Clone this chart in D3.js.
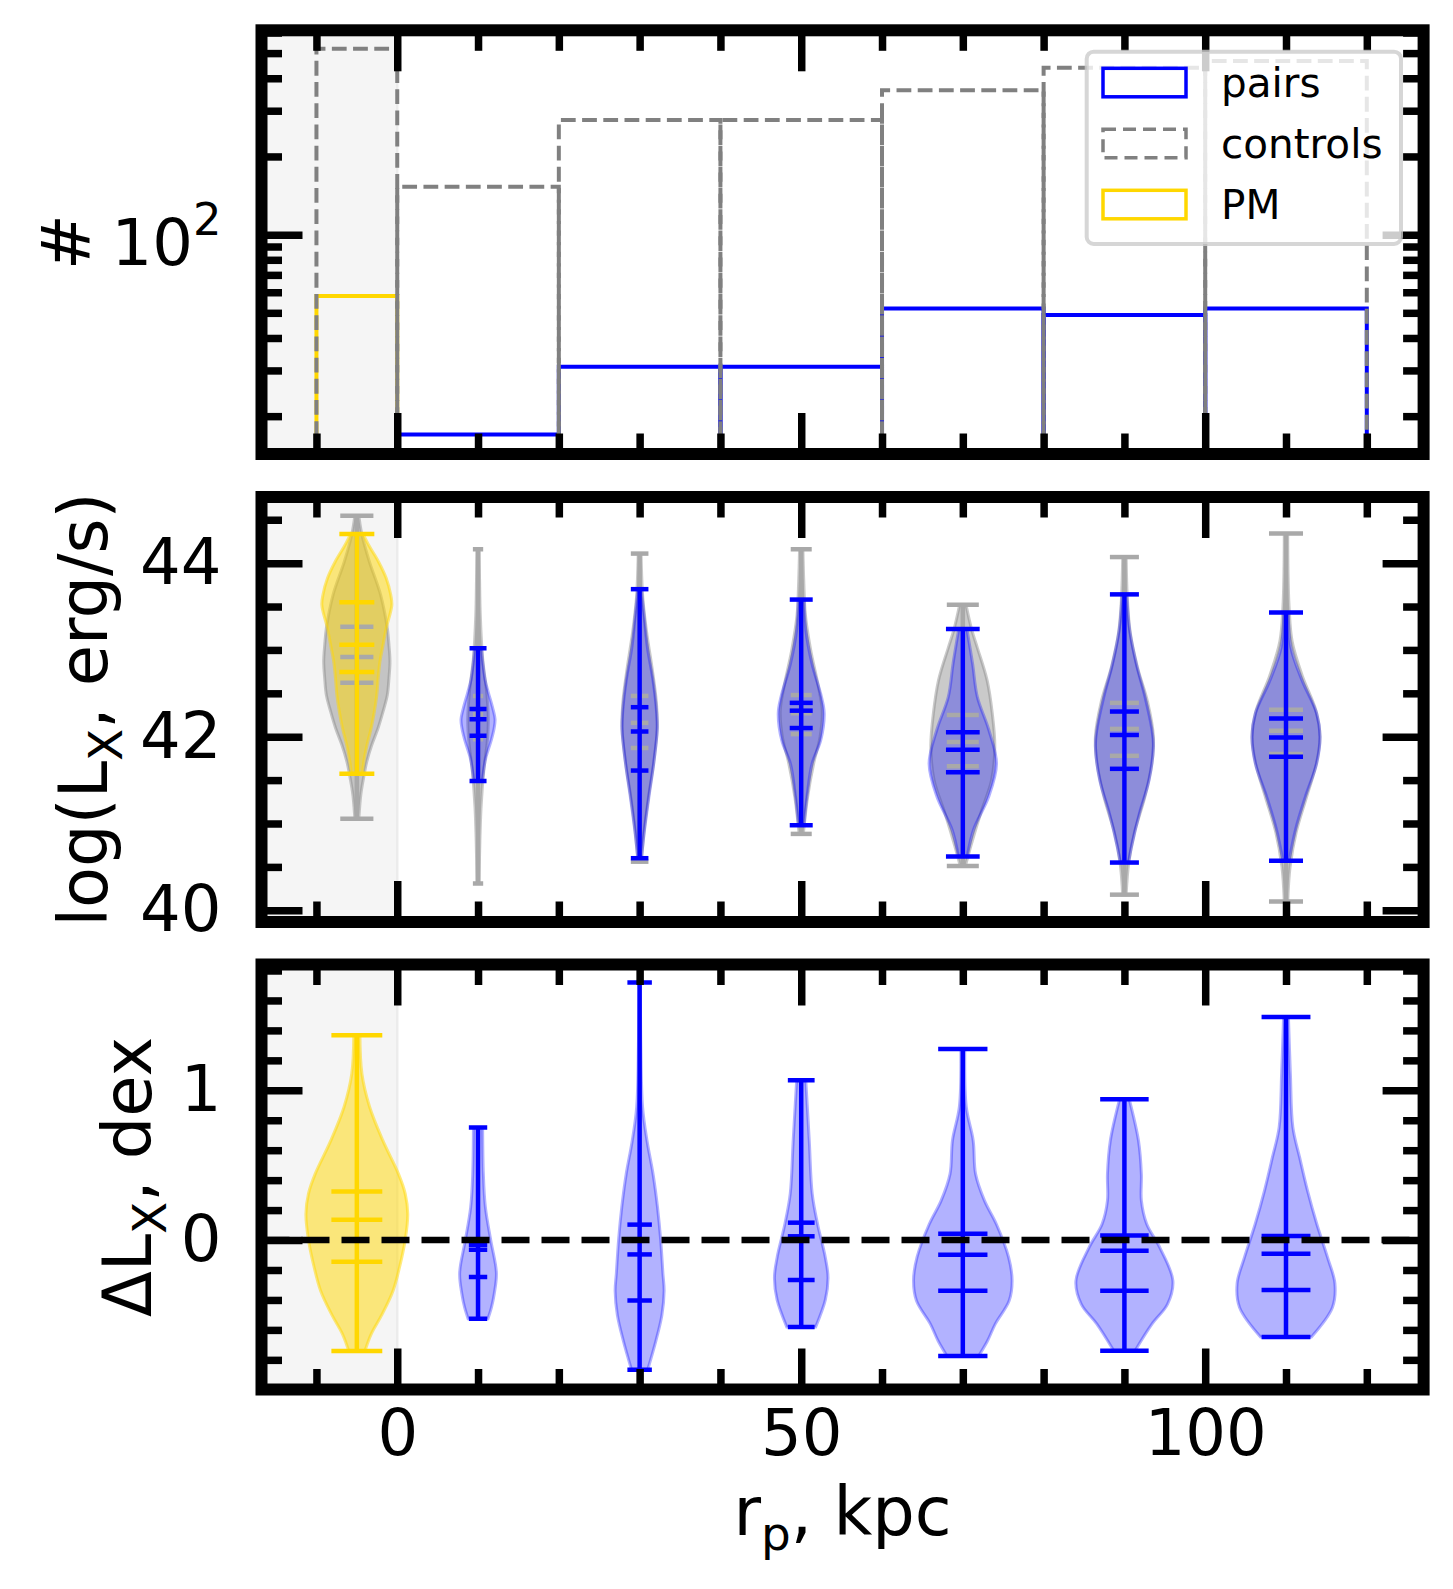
<!DOCTYPE html>
<html><head><meta charset="utf-8">
<script src="https://cdn.jsdelivr.net/npm/d3@7"></script>
<style>
html,body{margin:0;padding:0;background:#fff;}
svg{display:block;font-family:"DejaVu Sans",sans-serif;}
</style></head><body>
<svg id="chart" width="1453" height="1589"></svg>
<script>
// ---------------- data ----------------
const binEdges = [0, 20, 40, 60, 80, 100, 120];
const pmBinEdges = [-10, 0];
const pairCounts = [17, 31, 31, 52, 49, 52];
const controlCounts = [153, 276, 276, 360, 439, 466];
const pmCount = 58;
const pmControlCount = 520;

const violinPositions = [-5, 10, 30, 50, 70, 90, 110];   // first = PM
// violin widths (x data units), per violin
const lxControlWidths = [8.2, 2.55, 4.36, 5.2, 7.92, 7.18, 8.42];
const lxPairWidths    = [8.66, 4.21, 4.36, 5.69, 8.35, 7.18, 8.42];
const dlxPairWidths   = [12.6, 4.55, 6.06, 6.63, 12.2, 12.0, 12.1];

// violin statistic lines: [min, line1, line2, line3, max]
const lxControlLines = [
  [41.055, 42.623, 42.918, 43.268, 44.546],
  [40.31, 41.97, 42.26, 42.47, 44.16],
  [40.56, 41.87, 42.16, 42.47, 44.11],
  [40.88, 42.03, 42.27, 42.48, 44.16],
  [40.51, 41.66, 41.94, 42.25, 43.52],
  [40.18, 41.78, 42.09, 42.39, 44.07],
  [40.10, 41.80, 42.07, 42.31, 44.34]
];
const lxPairLines = [
  [41.574, 42.745, 43.06, 43.55, 44.335],
  [41.49, 42.01, 42.20, 42.32, 43.02],
  [40.60, 41.61, 42.06, 42.34, 43.70],
  [40.98, 42.10, 42.30, 42.39, 43.58],
  [40.62, 41.59, 41.85, 42.05, 43.24],
  [40.55, 41.63, 42.02, 42.29, 43.64],
  [40.57, 41.77, 41.99, 42.21, 43.43]
];
const dlxPairLines = [
  [-0.741, -0.145, 0.136, 0.324, 1.368],
  [-0.525, -0.246, -0.065, -0.031, 0.752],
  [-0.866, -0.404, -0.096, 0.103, 1.719],
  [-0.580, -0.266, 0.025, 0.116, 1.067],
  [-0.775, -0.339, -0.098, 0.042, 1.275],
  [-0.739, -0.339, -0.071, 0.031, 0.940],
  [-0.647, -0.333, -0.092, 0.027, 1.489]
];

// violin density profiles: [value, relative density]
const lxControlProfiles = [
  [[41.055,0.06],[41.33,0.12],[41.52,0.20],[41.712,0.30],[41.904,0.45],[42.097,0.64],[42.288,0.79],[42.48,0.92],[42.673,0.97],[42.864,1.0],[43.056,0.97],[43.249,0.92],[43.632,0.72],[44.016,0.38],[44.335,0.15],[44.546,0.06]],
  [[40.31,0.1],[40.8,0.18],[41.2,0.3],[41.6,0.55],[41.95,0.9],[42.2,1.0],[42.5,0.85],[42.9,0.45],[43.4,0.22],[43.8,0.15],[44.16,0.1]],
  [[40.56,0.1],[40.9,0.25],[41.3,0.5],[41.7,0.8],[42.1,1.0],[42.4,0.95],[42.8,0.7],[43.2,0.4],[43.6,0.18],[44.11,0.08]],
  [[40.88,0.1],[41.3,0.3],[41.7,0.6],[42.0,0.9],[42.3,1.0],[42.6,0.8],[43.0,0.45],[43.4,0.2],[43.8,0.12],[44.16,0.08]],
  [[40.51,0.08],[40.74,0.25],[41.12,0.56],[41.5,0.9],[41.89,1.0],[42.27,0.92],[42.65,0.76],[43.03,0.45],[43.23,0.28],[43.52,0.1]],
  [[40.18,0.06],[40.55,0.15],[40.9,0.35],[41.3,0.7],[41.7,0.95],[42.0,1.0],[42.4,0.8],[42.8,0.45],[43.2,0.2],[43.6,0.1],[44.07,0.06]],
  [[40.10,0.05],[40.5,0.12],[40.9,0.3],[41.3,0.6],[41.7,0.9],[42.0,1.0],[42.3,0.88],[42.7,0.48],[43.1,0.18],[43.5,0.09],[43.9,0.06],[44.34,0.05]]
];
const lxPairProfiles = [
  [[41.574,0.16],[41.712,0.20],[41.904,0.29],[42.097,0.41],[42.288,0.50],[42.48,0.57],[42.673,0.61],[42.864,0.66],[43.056,0.75],[43.249,0.84],[43.517,1.0],[43.632,0.97],[43.825,0.84],[44.016,0.62],[44.2,0.35],[44.335,0.18]],
  [[41.49,0.25],[41.6,0.32],[41.75,0.45],[41.96,0.78],[42.1,0.95],[42.2,1.0],[42.34,0.85],[42.5,0.62],[42.65,0.42],[42.85,0.28],[43.02,0.2]],
  [[40.60,0.1],[40.93,0.28],[41.31,0.53],[41.69,0.8],[42.08,1.0],[42.27,0.97],[42.65,0.76],[43.03,0.44],[43.42,0.24],[43.70,0.1]],
  [[40.98,0.12],[41.31,0.25],[41.69,0.47],[41.96,0.85],[42.27,1.0],[42.46,0.88],[42.84,0.47],[43.23,0.2],[43.58,0.13]],
  [[40.62,0.13],[40.93,0.32],[41.31,0.77],[41.69,1.0],[42.08,0.77],[42.46,0.43],[42.84,0.29],[43.24,0.12]],
  [[40.55,0.14],[40.74,0.25],[41.12,0.52],[41.5,0.85],[41.89,1.0],[42.08,0.95],[42.46,0.71],[42.84,0.41],[43.23,0.18],[43.64,0.08]],
  [[40.57,0.09],[40.93,0.28],[41.31,0.57],[41.69,0.9],[42.0,1.0],[42.27,0.9],[42.65,0.47],[43.03,0.14],[43.43,0.07]]
];
const dlxPairProfiles = [
  [[-0.74,0.16],[-0.63,0.28],[-0.5,0.49],[-0.34,0.71],[-0.18,0.84],[0,0.95],[0.174,1.0],[0.31,0.95],[0.44,0.82],[0.665,0.51],[0.89,0.25],[1.11,0.10],[1.37,0.06]],
  [[-0.525,0.54],[-0.45,0.73],[-0.36,0.88],[-0.22,1.0],[0,0.69],[0.22,0.40],[0.44,0.29],[0.752,0.25]],
  [[-0.866,0.33],[-0.67,0.67],[-0.5,0.91],[-0.34,1.0],[-0.22,0.95],[0,0.86],[0.22,0.73],[0.44,0.55],[0.665,0.30],[0.89,0.12],[1.3,0.05],[1.719,0.03]],
  [[-0.58,0.54],[-0.40,0.90],[-0.25,1.0],[-0.116,0.90],[0.107,0.61],[0.31,0.41],[0.665,0.30],[1.067,0.17]],
  [[-0.775,0.32],[-0.674,0.50],[-0.56,0.66],[-0.406,0.94],[-0.272,1.0],[-0.116,0.93],[0.107,0.68],[0.263,0.44],[0.44,0.26],[0.665,0.21],[0.89,0.07],[1.275,0.04]],
  [[-0.739,0.22],[-0.56,0.57],[-0.428,0.89],[-0.272,1.0],[-0.05,0.73],[0.107,0.46],[0.263,0.35],[0.44,0.35],[0.665,0.29],[0.94,0.10]],
  [[-0.647,0.52],[-0.45,0.95],[-0.29,1.0],[-0.116,0.85],[0.107,0.63],[0.33,0.44],[0.55,0.28],[0.754,0.14],[1.11,0.09],[1.489,0.05]]
];

// ticks
const xMajorTicks = [0, 50, 100];
const xMinorTicks = [-10, 10, 20, 30, 40, 60, 70, 80, 90, 110, 120];
const countMajorTicks = [100];
const countMinorTicks = [20, 30, 40, 50, 60, 70, 80, 90, 200, 300, 400, 500, 600];
const lxMajorTicks = [40, 42, 44];
const lxMinorTicks = [40.5, 41, 41.5, 42.5, 43, 43.5, 44.5];
const dlxMajorTicks = [0, 1];
const dlxMinorTicks = [-0.8, -0.6, -0.4, -0.2, 0.2, 0.4, 0.6, 0.8, 1.2, 1.4, 1.6, 1.8];
const legendLabels = ["pairs", "controls", "PM"];

// ---------------- layout / style ----------------
const C_BLUE = "#0000ff", C_GOLD = "#ffd700", C_GRAY = "#808080", C_DGRAY = "#a9a9a9";
const X0 = 261.5, X1 = 1423.6;
const P = [{top: 30.3, bottom: 454}, {top: 497, bottom: 922}, {top: 964.5, bottom: 1389.5}];
const FS = 64, LFS = 67;
const MAJ = 41, MIN = 20.5, TW = 7.5, SPW = 12, VLW = 4.5;

const svg = d3.select("#chart");
const x = d3.scaleLinear().domain([-16.8, 127.03]).range([X0, X1]);
const y1 = d3.scaleLog().domain([14.3, 612]).range([P[0].bottom, P[0].top]);
const y2 = d3.scaleLinear().domain([39.865, 44.762]).range([P[1].bottom, P[1].top]);
const y3 = d3.scaleLinear().domain([-0.998, 1.84]).range([P[2].bottom, P[2].top]);

const defs = svg.append("defs");
P.forEach((p, i) => {
  defs.append("clipPath").attr("id", "clip" + i).append("rect")
    .attr("x", X0).attr("y", p.top).attr("width", X1 - X0).attr("height", p.bottom - p.top);
});

function panelGroup(i) {
  const g = svg.append("g").attr("clip-path", `url(#clip${i})`);
  g.append("rect").attr("x", X0).attr("y", P[i].top)
    .attr("width", x(0) - X0).attr("height", P[i].bottom - P[i].top).attr("fill", "#f5f5f5");
  g.append("line").attr("x1", x(0)).attr("x2", x(0)).attr("y1", P[i].top).attr("y2", P[i].bottom)
    .attr("stroke", "#ececec").attr("stroke-width", 2.5);
  return g;
}

function axesFor(i, yScale, yMaj, yMin, labelFmt) {
  const p = P[i];
  const g = svg.append("g");
  const mk = (gen, tr, vals, size, lab) => {
    const a = gen.tickValues(vals).tickSize(-size).tickPadding(lab ? lab.pad : 0)
      .tickFormat(lab ? lab.fmt : () => "");
    const ag = g.append("g").attr("transform", tr).call(a);
    ag.select(".domain").remove();
    ag.selectAll(".tick line").attr("stroke", "#000").attr("stroke-width", TW);
    ag.attr("font-family", "DejaVu Sans").attr("font-size", FS);
    ag.selectAll(".tick text").attr("fill", "#000");
    return ag;
  };
  const showXLab = i === 2;
  mk(d3.axisBottom(x), `translate(0,${p.bottom})`, xMajorTicks, MAJ, showXLab ? {pad: 20, fmt: d3.format("d")} : null);
  mk(d3.axisBottom(x), `translate(0,${p.bottom})`, xMinorTicks, MIN, null);
  mk(d3.axisTop(x), `translate(0,${p.top})`, xMajorTicks, MAJ, null);
  mk(d3.axisTop(x), `translate(0,${p.top})`, xMinorTicks, MIN, null);
  const left = mk(d3.axisLeft(yScale), `translate(${X0},0)`, yMaj, MAJ, {pad: 40, fmt: labelFmt});
  mk(d3.axisLeft(yScale), `translate(${X0},0)`, yMin, MIN, null);
  mk(d3.axisRight(yScale), `translate(${X1},0)`, yMaj, MAJ, null);
  mk(d3.axisRight(yScale), `translate(${X1},0)`, yMin, MIN, null);
  return left;
}

function frame(i) {
  svg.append("rect").attr("x", X0).attr("y", P[i].top).attr("width", X1 - X0)
    .attr("height", P[i].bottom - P[i].top).attr("fill", "none")
    .attr("stroke", "#000").attr("stroke-width", SPW).attr("stroke-linejoin", "miter");
}

// ---------------- panel 1: histograms ----------------
const g1 = panelGroup(0);
const stepPath = (x0, x1v, c) => {
  const yb = y1(1);
  return `M${x(x0)},${yb}L${x(x0)},${y1(c)}L${x(x1v)},${y1(c)}L${x(x1v)},${yb}`;
};
pairCounts.forEach((c, k) => {
  g1.append("path").attr("d", stepPath(binEdges[k], binEdges[k + 1], c))
    .attr("fill", "none").attr("stroke", C_BLUE).attr("stroke-width", 4);
});
g1.append("path").attr("d", stepPath(pmBinEdges[0], pmBinEdges[1], pmCount))
  .attr("fill", "none").attr("stroke", C_GOLD).attr("stroke-width", 4);
const dash = "14.8,6.4";
controlCounts.forEach((c, k) => {
  g1.append("path").attr("d", stepPath(binEdges[k], binEdges[k + 1], c))
    .attr("fill", "none").attr("stroke", C_GRAY).attr("stroke-width", 4).attr("stroke-dasharray", dash);
});
g1.append("path").attr("d", stepPath(pmBinEdges[0], pmBinEdges[1], pmControlCount))
  .attr("fill", "none").attr("stroke", C_GRAY).attr("stroke-width", 4).attr("stroke-dasharray", dash);

const ax1 = axesFor(0, y1, countMajorTicks, countMinorTicks, () => "");
ax1.selectAll(".tick text").each(function () {
  const t = d3.select(this).attr("dy", null).attr("y", 12).attr("dominant-baseline", "middle");
  t.append("tspan").text("10");
  t.append("tspan").attr("font-size", FS * 0.7).attr("dy", -24).text("2");
});
frame(0);

// ---------------- violin helpers ----------------
function violinBody(g, yScale, pos, width, profile, color, op) {
  const cx = x(pos);
  const half = (x(pos + width / 2) - x(pos - width / 2)) / 2;
  const area = d3.area().curve(d3.curveCatmullRom.alpha(0.5))
    .y(d => yScale(d[0])).x0(d => cx - d[1] * half).x1(d => cx + d[1] * half);
  g.append("path").attr("d", area(profile)).attr("fill", color).attr("fill-opacity", op)
    .attr("stroke", color).attr("stroke-opacity", op).attr("stroke-width", 3);
}
function violinLines(g, yScale, pos, width, vals, color) {
  const cx = x(pos);
  const hl = x(pos + width / 4) - cx;
  g.append("line").attr("x1", cx).attr("x2", cx).attr("y1", yScale(vals[0])).attr("y2", yScale(vals[4]))
    .attr("stroke", color).attr("stroke-width", VLW);
  vals.forEach(v => {
    g.append("line").attr("x1", cx - hl).attr("x2", cx + hl).attr("y1", yScale(v)).attr("y2", yScale(v))
      .attr("stroke", color).attr("stroke-width", VLW);
  });
}

// ---------------- panel 2 ----------------
const g2 = panelGroup(1);
violinPositions.forEach((pos, k) => violinBody(g2, y2, pos, lxControlWidths[k], lxControlProfiles[k], C_GRAY, 0.42));
violinPositions.forEach((pos, k) => violinBody(g2, y2, pos, lxPairWidths[k], lxPairProfiles[k], k === 0 ? C_GOLD : C_BLUE, k === 0 ? 0.5 : 0.3));
violinPositions.forEach((pos, k) => violinLines(g2, y2, pos, lxControlWidths[k], lxControlLines[k], C_DGRAY));
violinPositions.forEach((pos, k) => violinLines(g2, y2, pos, lxPairWidths[k], lxPairLines[k], k === 0 ? C_GOLD : C_BLUE));
axesFor(1, y2, lxMajorTicks, lxMinorTicks, d3.format("d"));
frame(1);

// ---------------- panel 3 ----------------
const g3 = panelGroup(2);
violinPositions.forEach((pos, k) => violinBody(g3, y3, pos, dlxPairWidths[k], dlxPairProfiles[k], k === 0 ? C_GOLD : C_BLUE, k === 0 ? 0.5 : 0.3));
violinPositions.forEach((pos, k) => violinLines(g3, y3, pos, dlxPairWidths[k], dlxPairLines[k], k === 0 ? C_GOLD : C_BLUE));
g3.append("line").attr("x1", X0).attr("x2", X1).attr("y1", y3(0)).attr("y2", y3(0))
  .attr("stroke", "#000").attr("stroke-width", 6.5).attr("stroke-dasharray", "28,12");
axesFor(2, y3, dlxMajorTicks, dlxMinorTicks, d3.format("d"));
frame(2);

// ---------------- axis labels ----------------
function ylabel(cx, cy, parts) {
  const t = svg.append("text").attr("transform", `translate(${cx},${cy}) rotate(-90)`)
    .attr("text-anchor", "middle").attr("font-size", LFS).attr("dy", "0.36em").attr("fill", "#000");
  parts.forEach(pt => {
    const s = t.append("tspan").text(pt.t);
    if (pt.sub) s.attr("font-size", LFS * 0.7).attr("dy", 15);
    if (pt.after) s.attr("dy", -15);
  });
}
ylabel(66, (P[0].top + P[0].bottom) / 2, [{t: "#"}]);
ylabel(83, (P[1].top + P[1].bottom) / 2, [{t: "log(L"}, {t: "X", sub: true}, {t: ", erg/s)", after: true}]);
ylabel(127, (P[2].top + P[2].bottom) / 2, [{t: "ΔL"}, {t: "X", sub: true}, {t: ", dex", after: true}]);

const xl = svg.append("text").attr("x", (X0 + X1) / 2).attr("y", 1535).attr("text-anchor", "middle")
  .attr("font-size", LFS).attr("fill", "#000");
xl.append("tspan").text("r");
xl.append("tspan").attr("font-size", LFS * 0.7).attr("dy", 15).text("p");
xl.append("tspan").attr("dy", -15).text(", kpc");

// ---------------- legend ----------------
const lg = svg.append("g");
lg.append("rect").attr("x", 1086.7).attr("y", 51.7).attr("width", 314.3).attr("height", 192.3)
  .attr("rx", 7).attr("fill", "#fff").attr("fill-opacity", 0.8)
  .attr("stroke", "#cccccc").attr("stroke-opacity", 0.8).attr("stroke-width", 4);
const legendStyles = [
  {stroke: C_BLUE, dash: null},
  {stroke: C_GRAY, dash: dash},
  {stroke: C_GOLD, dash: null}
];
legendLabels.forEach((lab, k) => {
  const yy = 68.3 + k * 61;
  const r = lg.append("rect").attr("x", 1103).attr("y", yy).attr("width", 83).attr("height", 28.5)
    .attr("fill", "none").attr("stroke", legendStyles[k].stroke).attr("stroke-width", 3.5);
  if (legendStyles[k].dash) r.attr("stroke-dasharray", "13,7");
  lg.append("text").attr("x", 1221).attr("y", yy + 29).attr("font-size", 40.5).attr("fill", "#000").text(lab);
});
</script>
</body></html>
